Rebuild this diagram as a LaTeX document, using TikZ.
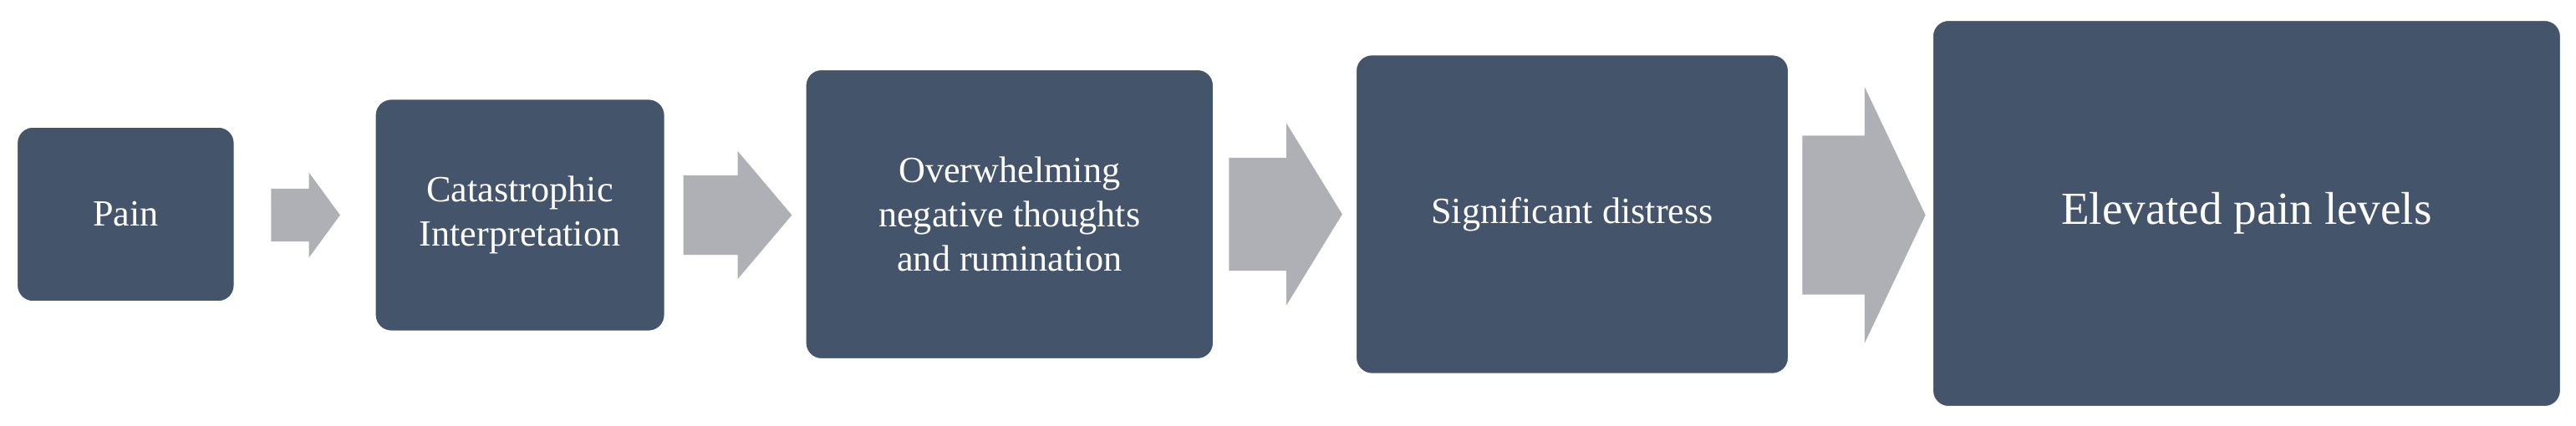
\documentclass[tikz,border=0pt]{standalone}
\usepackage{fontspec}
\setmainfont{Liberation Serif}
\usetikzlibrary{shapes.arrows}
\definecolor{boxc}{HTML}{44546A}
\definecolor{arrc}{HTML}{AEB0B5}
\begin{document}
\begin{tikzpicture}[x=1pt,y=-1pt,
  box/.style={draw=white,line width=1.5pt,fill=boxc,rounded corners=10pt},
  lbl/.style={text=white,align=center,font=\fontsize{22.5}{27}\selectfont},
  arr/.style={fill=arrc,draw=none}]
\useasboundingbox (0,0) rectangle (1568,259);
\newcommand{\myarrow}[6]{% x0 x1 head-start ytop ybot name
  \pgfmathsetmacro{\ym}{(#4+#5)/2}\pgfmathsetmacro{\bh}{(#5-#4)*0.31}
  \fill[arr] (#1,\ym-\bh) -- (#3,\ym-\bh) -- (#3,#4) -- (#2,\ym) -- (#3,#5) -- (#3,\ym+\bh) -- (#1,\ym+\bh) -- cycle;
  \coordinate (#6) at (#2,\ym);}
\draw[box] (10,77) rectangle (143,184);
\node[lbl] (b1) at (76.5,130.5) {Pain};
\draw[box] (228,60) rectangle (405,202);
\node[lbl] (b2) at (316.5,131) {Catastrophic\\Interpretation};
\draw[box] (490,42) rectangle (739,219);
\node[lbl] (b3) at (614.5,130.5) {Overwhelming\\negative thoughts\\and rumination};
\draw[box] (825,33) rectangle (1089,228);
\node[lbl] (b4) at (957,130.5) {Significant distress};
\draw[box] (1176,12) rectangle (1559,248);
\node[lbl,font=\fontsize{28}{33}\selectfont] (b5) at (1367.5,130) {Elevated pain levels};
\myarrow{165}{207}{188}{105}{157}{a1}
\myarrow{416}{482}{449}{92}{170}{a2}
\myarrow{748}{817}{783}{75}{186}{a3}
\myarrow{1097}{1172}{1135}{53}{209}{a4}
\end{tikzpicture}
\end{document}
